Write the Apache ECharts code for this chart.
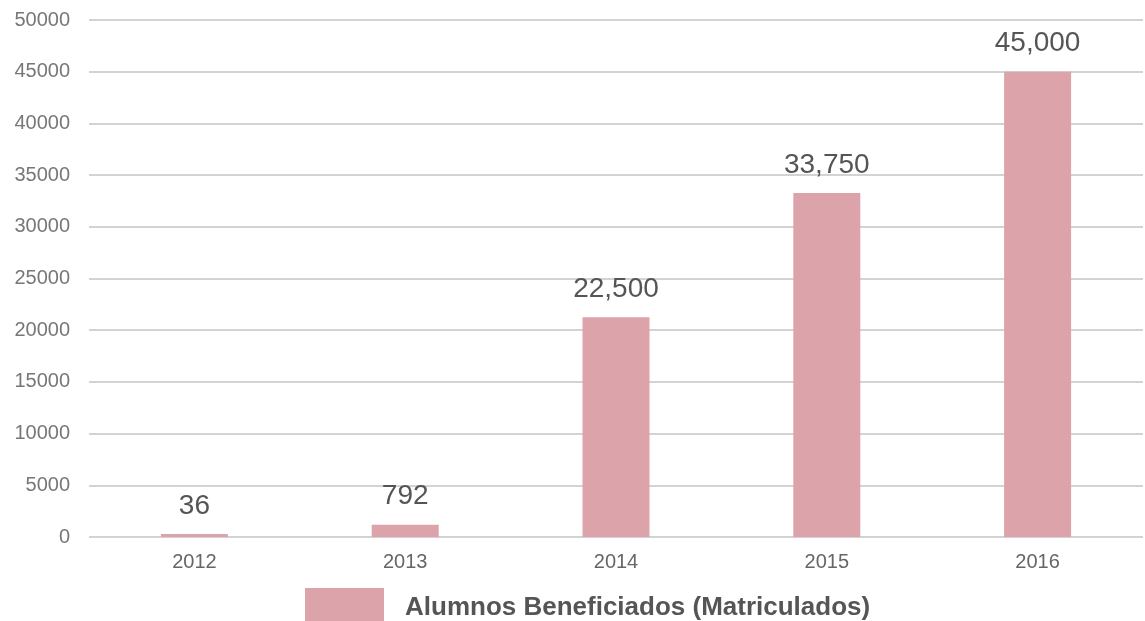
<!DOCTYPE html>
<html>
<head>
<meta charset="utf-8">
<script src="https://cdn.jsdelivr.net/npm/echarts@6/dist/echarts.min.js"></script>
<style>
  html, body { margin: 0; padding: 0; background: #fff; }
  #chart { width: 1145px; height: 621px; }
</style>
</head>
<body>
<div id="chart"></div>
<script>
// datos
var years = ['2012', '2013', '2014', '2015', '2016'];
// altura de las barras tal como se dibujan
var barValues = [300, 1190, 21250, 33270, 45000];
// etiquetas que aparecen sobre cada barra
var barLabels = ['36', '792', '22,500', '33,750', '45,000'];
var seriesName = 'Alumnos Beneficiados (Matriculados)';

var myChart = echarts.init(document.getElementById('chart'));

var option = {
    animation: false,
    grid: {
        left: 89,
        right: 2,
        top: 20,
        bottom: 84
    },
    legend: {
        left: 300,
        top: 583,
        icon: 'rect',
        itemWidth: 79,
        itemHeight: 40,
        itemStyle: { borderWidth: 0 },
        textStyle: {
            color: '#555',
            fontSize: 26,
            fontWeight: 'bold',
            fontFamily: 'Liberation Sans',
            padding: [0, 0, 0, 16]
        },
        data: [seriesName]
    },
    xAxis: {
        type: 'category',
        data: years,
        axisLine: { show: false },
        axisTick: { show: false },
        axisLabel: {
            color: '#666',
            fontSize: 20,
            fontFamily: 'Liberation Sans',
            margin: 15
        }
    },
    yAxis: {
        type: 'value',
        min: 0,
        max: 50000,
        interval: 5000,
        axisLine: { show: false },
        axisTick: { show: false },
        axisLabel: {
            color: '#777',
            fontSize: 20,
            fontFamily: 'Liberation Sans',
            margin: 19,
            formatter: function (v) { return String(v); }
        },
        splitLine: {
            lineStyle: { color: '#c4c4c4', width: 1.5 }
        }
    },
    series: [
        {
            name: seriesName,
            type: 'bar',
            barWidth: 67,
            data: barValues,
            itemStyle: { color: '#dca4aa' },
            label: {
                show: true,
                position: 'top',
                distance: 14,
                color: '#555',
                fontSize: 28,
                fontFamily: 'Liberation Sans',
                formatter: function (p) {
                    return barLabels[p.dataIndex];
                }
            }
        }
    ]
};

myChart.setOption(option);
</script>
</body>
</html>
